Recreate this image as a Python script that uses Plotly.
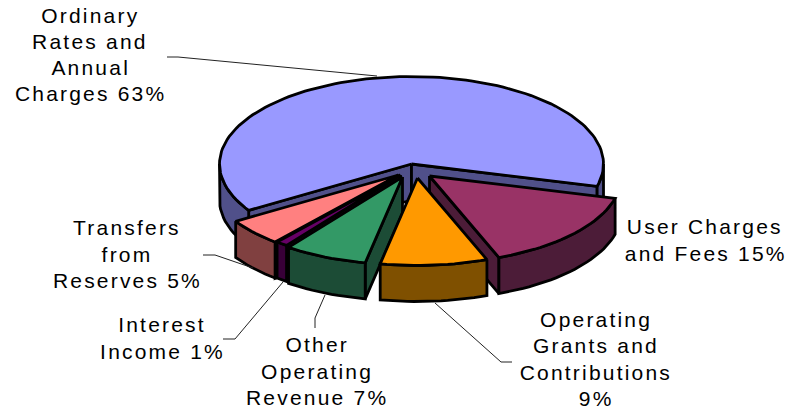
import numpy as np
import plotly.graph_objects as go

# --- data (clockwise from the left edge of the largest slice) ---
labels = ["Ordinary<br>Rates and<br>Annual<br>Charges", "User Charges<br>and Fees",
          "Operating<br>Grants and<br>Contributions<br>", "Other<br>Operating<br>Revenue",
          "Interest<br>Income", "Transfers<br>from<br>Reserves"]
values = [63, 15, 9, 7, 1, 5]

# --- styles ---
top_colors = ["#9999ff", "#993366", "#ff9900", "#339966", "#660066", "#ff8080"]
side_colors = ["#50508a", "#4c1c38", "#7f5000", "#1c4c36", "#380038", "#804040"]
START_DEG = 148.0
CX, CY, RX, RY, DEPTH = 411.5, 164.0, 192.0, 87.5, 36.0
LINE_GAP = 26.3
offsets = [(0, 0), (18, 12), (6, 14), (-9, 13), (-11, 11), (-13, 11)]
label_pos = [(90, 54.5), (705, 240), (596, 359), (317, 371), (162, 338), (127, 254)]
leaders = [[(167, 57), (178, 57), (377, 76)],
           [(512, 362), (501, 362), (435, 303)],
           [(315, 328), (315, 318), (325, 295)],
           [(223, 339), (235, 339), (283, 282)],
           [(203, 255), (215, 255), (253, 268)]]

fig = go.Figure()


def poly(xs, ys, fill):
    fig.add_trace(go.Scatter(x=list(xs), y=list(ys), mode="lines", fill="toself", fillcolor=fill,
                             line=dict(color="black", width=2.8, shape="linear"),
                             hoverinfo="skip", showlegend=False))


def arc(a, b, ox, oy):
    t = np.radians(np.linspace(a, b, max(int(abs(b - a) / 2), 2) + 1))
    return ox + CX + RX * np.cos(t), oy + CY + RY * np.sin(t)


spans = np.array(values) / sum(values) * 360
starts = START_DEG + np.concatenate([[0], np.cumsum(spans)[:-1]])
ends = starts + spans
mids = np.radians((starts + ends) / 2)
order = np.argsort(np.sin(mids))

for i in order:
    s, e = starts[i], ends[i]
    ox, oy = offsets[i]
    ax, ay = CX + ox, CY + oy

    # radial walls that face the viewer
    for ang, normal in ((s, s - 90), (e, e + 90)):
        if np.sin(np.radians(normal)) > 0:
            px = ax + RX * np.cos(np.radians(ang))
            py = ay + RY * np.sin(np.radians(ang))
            poly([ax, px, px, ax, ax], [ay, py, py + DEPTH, ay + DEPTH, ay], side_colors[i])

    # outer rim, only the part on the front half of the ellipse
    for k in (0, 360):
        a, b = max(s, k), min(e, k + 180)
        if b > a:
            x, y = arc(a, b, ox, oy)
            poly(np.r_[x, x[::-1], x[0]], np.r_[y, y[::-1] + DEPTH, y[0]], side_colors[i])

    # top face
    x, y = arc(s, e, ox, oy)
    poly(np.r_[ax, x, ax], np.r_[ay, y, ay], top_colors[i])

for pts in leaders:
    fig.add_trace(go.Scatter(x=[p[0] for p in pts], y=[p[1] for p in pts], mode="lines",
                             line=dict(color="#222222", width=1), hoverinfo="skip", showlegend=False))

for name, v, (lx, ly) in zip(labels, values, label_pos):
    sep = "" if name.endswith("<br>") else " "
    lines = f"{name}{sep}{v}%".split("<br>")
    for j, line in enumerate(lines):
        fig.add_annotation(x=lx, y=ly + (j - (len(lines) - 1) / 2) * LINE_GAP, xref="x", yref="y",
                           text=line, showarrow=False, align="center",
                           xanchor="center", yanchor="middle",
                           font=dict(family="Liberation Sans", size=21, color="black"))

fig.update_xaxes(range=[0, 788], visible=False, fixedrange=True)
fig.update_yaxes(range=[409, 0], visible=False, fixedrange=True)
fig.update_layout(width=788, height=409, margin=dict(l=0, r=0, t=0, b=0),
                  paper_bgcolor="white", plot_bgcolor="white", showlegend=False)
page_css = ("document.body.style.margin='0';"
            "var s=document.createElement('style');"
            "s.textContent='.annotation-text{letter-spacing:2.2px}';"
            "document.head.appendChild(s);")
fig.write_html("out.html", post_script=page_css, config={"displayModeBar": False})
